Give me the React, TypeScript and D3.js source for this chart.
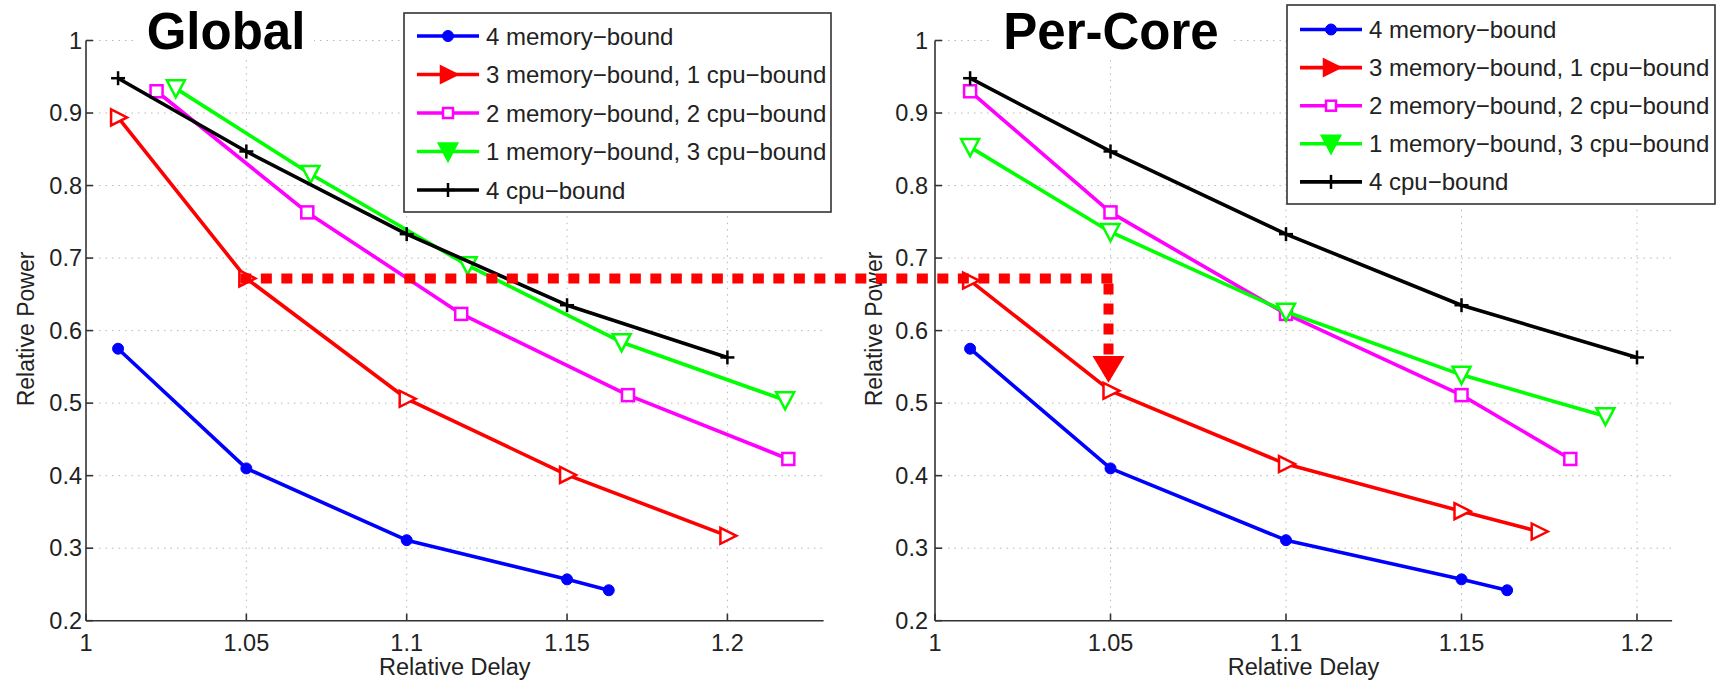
import React from "react";
import * as d3 from "d3";

// ---------- data ----------
const delayTicks = [1, 1.05, 1.1, 1.15, 1.2];
const powerTicks = [0.2, 0.3, 0.4, 0.5, 0.6, 0.7, 0.8, 0.9, 1];

const seriesNames = [
  "4 memory\u2212bound",
  "3 memory\u2212bound, 1 cpu\u2212bound",
  "2 memory\u2212bound, 2 cpu\u2212bound",
  "1 memory\u2212bound, 3 cpu\u2212bound",
  "4 cpu\u2212bound",
];
const seriesColors = ["#0000ff", "#ff0000", "#ff00ff", "#00ff00", "#000000"];
const seriesMarkers = ["circle", "triRight", "square", "triDown", "plus"];

// Global
const globalMem4Delay = [1.01, 1.05, 1.1, 1.15, 1.163];
const globalMem4Power = [0.575, 0.41, 0.311, 0.257, 0.242];
const globalMem3Delay = [1.01, 1.05, 1.1, 1.15, 1.2];
const globalMem3Power = [0.894, 0.672, 0.506, 0.401, 0.317];
const globalMem2Delay = [1.022, 1.069, 1.117, 1.169, 1.219];
const globalMem2Power = [0.93, 0.763, 0.623, 0.511, 0.423];
const globalMem1Delay = [1.028, 1.07, 1.119, 1.167, 1.218];
const globalMem1Power = [0.934, 0.816, 0.69, 0.584, 0.504];
const globalCpu4Delay = [1.01, 1.05, 1.1, 1.15, 1.2];
const globalCpu4Power = [0.948, 0.847, 0.733, 0.635, 0.563];

// Per-Core
const coreMem4Delay = [1.01, 1.05, 1.1, 1.15, 1.163];
const coreMem4Power = [0.575, 0.41, 0.311, 0.257, 0.242];
const coreMem3Delay = [1.01, 1.05, 1.1, 1.15, 1.172];
const coreMem3Power = [0.669, 0.517, 0.416, 0.351, 0.323];
const coreMem2Delay = [1.01, 1.05, 1.1, 1.15, 1.181];
const coreMem2Power = [0.93, 0.763, 0.623, 0.511, 0.423];
const coreMem1Delay = [1.01, 1.05, 1.1, 1.15, 1.191];
const coreMem1Power = [0.853, 0.736, 0.626, 0.539, 0.482];
const coreCpu4Delay = [1.01, 1.05, 1.1, 1.15, 1.2];
const coreCpu4Power = [0.948, 0.847, 0.733, 0.635, 0.563];

// annotation (dashed arrow)
const annotationDelay = 1.05;
const annotationPower = 0.672;
const arrowTipPower = 0.528;
const arrowTopPower = 0.565;

const globalSeries = [
  [globalMem4Delay, globalMem4Power],
  [globalMem3Delay, globalMem3Power],
  [globalMem2Delay, globalMem2Power],
  [globalMem1Delay, globalMem1Power],
  [globalCpu4Delay, globalCpu4Power],
];
const coreSeries = [
  [coreMem4Delay, coreMem4Power],
  [coreMem3Delay, coreMem3Power],
  [coreMem2Delay, coreMem2Power],
  [coreMem1Delay, coreMem1Power],
  [coreCpu4Delay, coreCpu4Power],
];

const FONT = "'Liberation Sans', Arial, Helvetica, sans-serif";

function Marker({ kind, color, x, y, legend }: any) {
  const sw = 2.5;
  if (kind === "circle") return <circle cx={x} cy={y} r={5.5} fill={color} stroke={color} strokeWidth={1} />;
  if (kind === "triRight")
    return (
      <path
        d={`M${x - 7},${y - 8}L${x + 9},${y}L${x - 7},${y + 8}Z`}
        fill={legend ? color : "#fff"}
        stroke={color}
        strokeWidth={sw}
        strokeLinejoin="miter"
      />
    );
  if (kind === "square")
    return (
      <rect
        x={x - (legend ? 5 : 6)}
        y={y - (legend ? 5 : 6)}
        width={legend ? 10 : 12}
        height={legend ? 10 : 12}
        fill="#fff"
        stroke={color}
        strokeWidth={sw}
      />
    );
  if (kind === "triDown")
    return (
      <path
        d={`M${x - 9},${y - 8}L${x + 9},${y - 8}L${x},${y + 9}Z`}
        fill={legend ? color : "#fff"}
        stroke={color}
        strokeWidth={sw}
      />
    );
  return (
    <g stroke={color} strokeWidth={2.5}>
      <line x1={x - 7} x2={x + 7} y1={y} y2={y} />
      <line x1={x} x2={x} y1={y - 7} y2={y + 7} />
    </g>
  );
}

function Panel({ xScale, yScale, series, yLabelX, tickRight, legend, title }: any) {
  const [x0, x1] = xScale.range();
  const [yb, yt] = yScale.range();
  const line = d3
    .line<[number, number]>()
    .x((d) => xScale(d[0]))
    .y((d) => yScale(d[1]));
  return (
    <g fontFamily={FONT}>
      {/* grid */}
      <g stroke="#b8b8b8" strokeWidth={1} strokeDasharray="1.5,5">
        {delayTicks.slice(1).map((t) => (
          <line key={"gx" + t} x1={xScale(t)} x2={xScale(t)} y1={yb} y2={yt} />
        ))}
        {powerTicks.slice(1).map((t) => (
          <line key={"gy" + t} x1={x0} x2={x1} y1={yScale(t)} y2={yScale(t)} />
        ))}
      </g>
      {/* axes */}
      <g stroke="#333" strokeWidth={1.6}>
        <line x1={x0} x2={x1} y1={yb} y2={yb} />
        <line x1={x0} x2={x0} y1={yb} y2={yt} />
        {delayTicks.map((t) => (
          <line key={"tx" + t} x1={xScale(t)} x2={xScale(t)} y1={yb} y2={yb - 7} />
        ))}
        {powerTicks.map((t) => (
          <line key={"ty" + t} x1={x0} x2={x0 + 7} y1={yScale(t)} y2={yScale(t)} />
        ))}
      </g>
      {/* tick labels */}
      <g fill="#222" fontSize={23.5}>
        {delayTicks.map((t) => (
          <text key={"lx" + t} x={xScale(t)} y={651} textAnchor="middle">
            {d3.format("")(t)}
          </text>
        ))}
        {powerTicks.map((t) => (
          <text key={"ly" + t} x={tickRight} y={yScale(t)} textAnchor="end" dominantBaseline="central">
            {d3.format("")(t)}
          </text>
        ))}
      </g>
      <text x={(x0 + x1) / 2} y={675} textAnchor="middle" fontSize={23.5} fill="#222">
        Relative Delay
      </text>
      <text
        transform={`translate(${yLabelX},329) rotate(-90)`}
        textAnchor="middle"
        fontSize={23}
        fill="#222"
      >
        Relative Power
      </text>
      {/* series */}
      {series.map((s: any, i: number) => {
        const pts: [number, number][] = s[0].map((d: number, j: number) => [d, s[1][j]]);
        return (
          <g key={"s" + i}>
            <path d={line(pts) || ""} fill="none" stroke={seriesColors[i]} strokeWidth={3.6} strokeLinejoin="round" />
            {pts.map((p, j) => (
              <Marker key={j} kind={seriesMarkers[i]} color={seriesColors[i]} x={xScale(p[0])} y={yScale(p[1])} />
            ))}
          </g>
        );
      })}
      {/* title */}
      <rect x={title.x - title.w / 2} y={6} width={title.w} height={50} fill="#fff" />
      <text x={title.x} y={49} textAnchor="middle" fontSize={51} fontWeight="bold" fill="#000">
        {title.text}
      </text>
      {/* legend */}
      <rect x={legend.x} y={legend.y} width={legend.w} height={legend.h} fill="#fff" stroke="#333" strokeWidth={1.6} />
      {seriesNames.map((n, i) => {
        const ry = legend.row0 + i * legend.step;
        const lx = legend.x + 13;
        return (
          <g key={"lg" + i}>
            <line x1={lx} x2={lx + 62} y1={ry} y2={ry} stroke={seriesColors[i]} strokeWidth={3.6} />
            <Marker kind={seriesMarkers[i]} color={seriesColors[i]} x={lx + 31} y={ry} legend />
            <text x={lx + 69} y={ry} dominantBaseline="central" fontSize={24} fill="#222">
              {n}
            </text>
          </g>
        );
      })}
    </g>
  );
}

export default function App() {
  const yScale = d3.scaleLinear().domain([0.2, 1]).range([620.7, 40.5]);
  const xGlobal = d3.scaleLinear().domain([1, 1.23]).range([86, 86 + 0.23 * 3207]);
  const xCore = d3.scaleLinear().domain([1, 1.21]).range([935, 935 + 0.21 * 3510]);

  const hx0 = xGlobal(annotationDelay) - 6;
  const hx1 = xCore(annotationDelay) + 4;
  const hy = yScale(annotationPower);
  const vx = xCore(annotationDelay) - 2;
  const tipY = yScale(arrowTipPower);
  const topY = yScale(arrowTopPower);

  return (
    <svg
      width={1721}
      height={683}
      style={{ position: "absolute", left: 0, top: 0, background: "#fff" }}
    >
      <rect width={1721} height={683} fill="#fff" />
      <Panel
        xScale={xGlobal}
        yScale={yScale}
        series={globalSeries}
        yLabelX={34}
        tickRight={82}
        title={{ text: "Global", x: 226, w: 176 }}
        legend={{ x: 404, y: 13, w: 427, h: 199, row0: 36, step: 38.5 }}
      />
      <Panel
        xScale={xCore}
        yScale={yScale}
        series={coreSeries}
        yLabelX={882}
        tickRight={928}
        title={{ text: "Per-Core", x: 1111, w: 236 }}
        legend={{ x: 1287, y: 5, w: 428, h: 199, row0: 29.5, step: 38.1 }}
      />
      {/* annotation */}
      <g stroke="#ff0000" strokeWidth={10} fill="none">
        <line x1={hx0} x2={hx1} y1={hy} y2={hy} strokeDasharray="11,9.5" />
        <line x1={vx} x2={vx} y1={hy + 5} y2={topY} strokeDasharray="11,9" />
      </g>
      <path d={`M${vx - 16},${topY}L${vx + 16},${topY}L${vx},${tipY}Z`} fill="#ff0000" />
    </svg>
  );
}
